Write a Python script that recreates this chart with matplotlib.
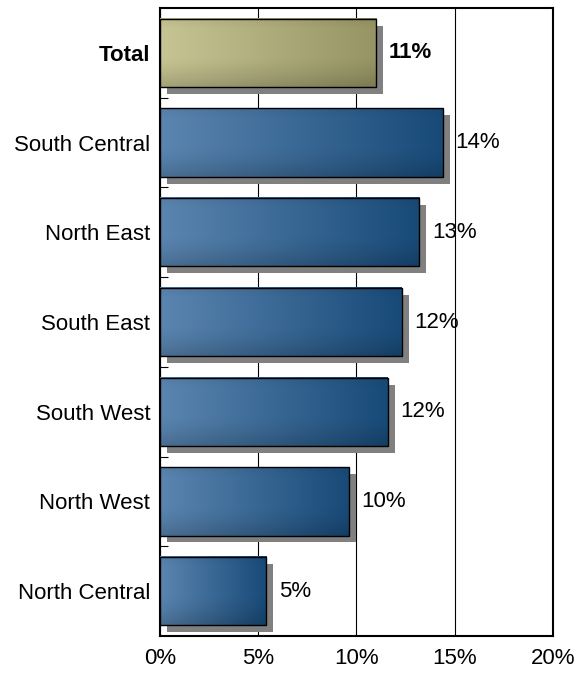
import numpy as np
import matplotlib.pyplot as plt
from matplotlib.transforms import ScaledTranslation
from matplotlib.ticker import FixedLocator, PercentFormatter

plt.rcParams['font.family'] = ['Liberation Sans', 'DejaVu Sans']

# Regions, top to bottom
regions = ["Total", "South Central", "North East", "South East",
           "South West", "North West", "North Central"]
shares = [11.0, 14.4, 13.2, 12.3, 11.6, 9.6, 5.4]   # percent

BAR_H = 0.76
FS = 16


def gradient(n_x, n_y, light, dark):
    # left-to-right darkening plus a soft highlight near the top
    light = np.array(light) / 255.0
    dark = np.array(dark) / 255.0
    gx = np.linspace(0, 1, n_x)[None, :, None]
    gy = np.linspace(0, 1, n_y)[:, None, None]
    base = light + (dark - light) * (0.1 + 0.9 * gx)
    shade = (1.0 - 0.18 * np.clip((gy - 0.55) / 0.45, 0, 1) ** 1.5
             - 0.05 * np.clip(1 - gy / 0.15, 0, 1))
    img = base * shade
    return np.clip(img, 0, 1)


fig = plt.figure(figsize=(5.76, 6.74), dpi=100)
ax = fig.add_axes([0.2778, 0.0564, 0.682, 0.9317])

y = np.arange(len(regions))

# drop shadows, shifted right and down
shift = ScaledTranslation(5 / 72, -5 / 72, fig.dpi_scale_trans)
shadows = ax.barh(y, shares, height=BAR_H, color='#808080', zorder=2)
for s in shadows:
    s.set_transform(ax.transData + shift)

for i, v in enumerate(shares):
    if i == 0:
        img = gradient(200, 60, (204, 202, 152), (150, 148, 100))
    else:
        img = gradient(200, 60, (98, 140, 182), (24, 74, 120))
    ax.imshow(img, extent=[0, v, i + BAR_H / 2, i - BAR_H / 2],
              aspect='auto', interpolation='bilinear', zorder=3)

ax.barh(y, shares, height=BAR_H, color='none', edgecolor='black',
        linewidth=1.0, zorder=4)

for i, v in enumerate(shares):
    ax.annotate(f"{v:.0f}%", xy=(v, i), xytext=(9, 0),
                textcoords='offset points', va='center', ha='left',
                fontsize=FS, fontweight='bold' if i == 0 else 'normal',
                zorder=5)

ax.set_xlim(0, 20)
ax.set_ylim(len(regions) - 0.5, -0.5)
ax.set_xticks([0, 5, 10, 15, 20])
ax.xaxis.set_major_formatter(PercentFormatter(decimals=0))
ax.grid(axis='x', color='black', linewidth=0.8, zorder=0)
ax.set_axisbelow(True)

ax.set_yticks(y)
ax.set_yticklabels(regions)
for lbl in ax.get_yticklabels():
    if lbl.get_text() == "Total":
        lbl.set_fontweight('bold')
ax.yaxis.set_minor_locator(FixedLocator(np.arange(0.5, len(regions) - 1, 1)))
ax.tick_params(axis='y', which='major', length=0, labelsize=FS, pad=7)
ax.tick_params(axis='y', which='minor', direction='in', length=6, width=0.8,
               color='black')
ax.tick_params(axis='x', length=0, labelsize=FS, pad=9)

for sp in ax.spines.values():
    sp.set_linewidth(1.5)
    sp.set_color('black')

fig.savefig("out.png", dpi=100)
